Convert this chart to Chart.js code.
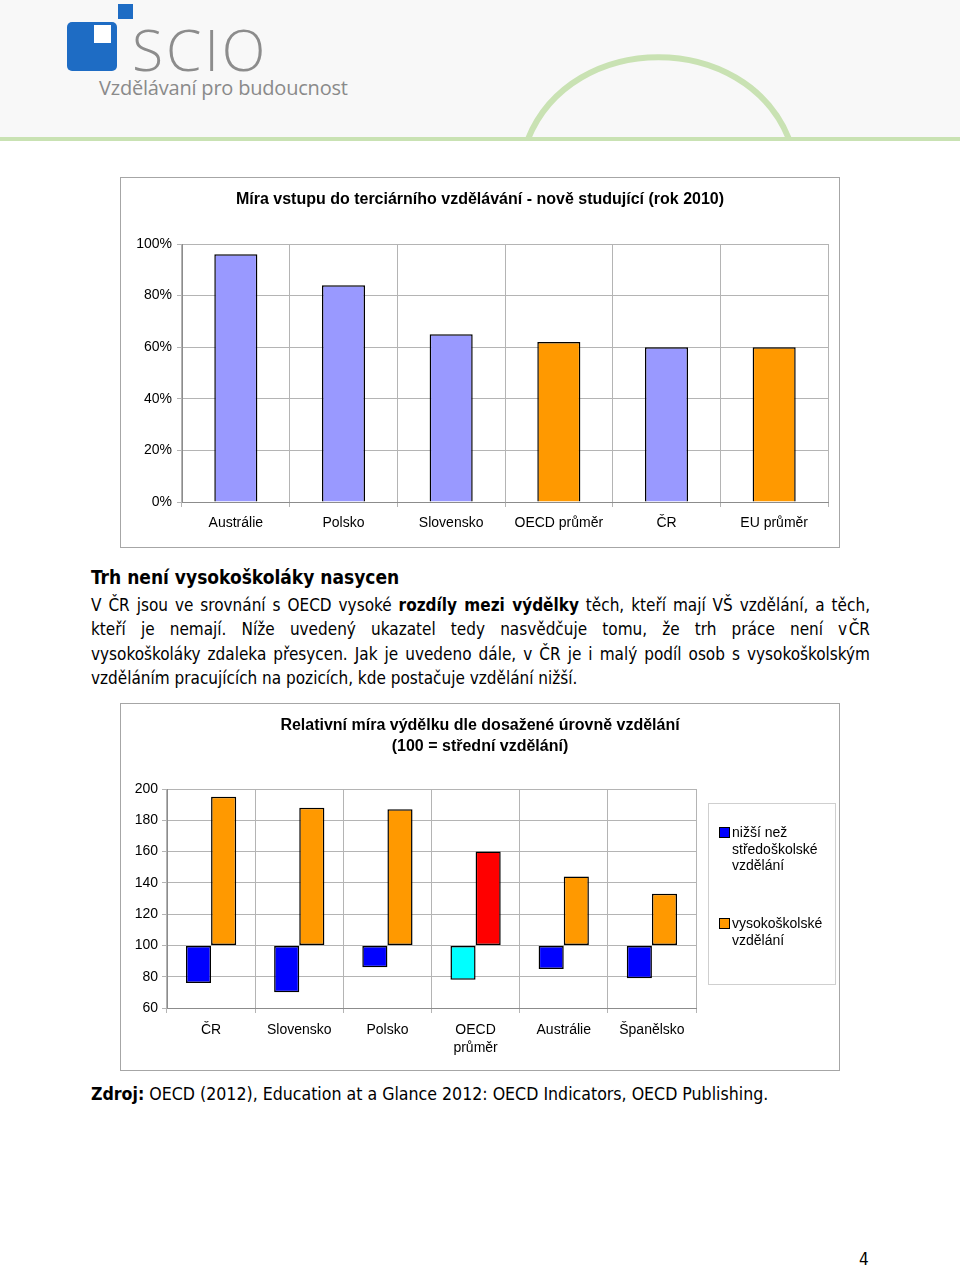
<!DOCTYPE html>
<html lang="cs">
<head>
<meta charset="utf-8">
<script src="https://cdn.jsdelivr.net/npm/chart.js@4.4.1/dist/chart.umd.min.js"></script>
<style>
body { margin:0; width:960px; height:1267px; position:relative; background:#fff; overflow:hidden;
       font-family:"DejaVu Sans Condensed","DejaVu Sans",sans-serif; color:#000; }
.abs { position:absolute; }
.header { left:0; top:0; width:960px; height:137px; background:#f8f8f8; }
.hline { left:0; top:137px; width:960px; height:4px; background:#c9e2b3; }
.frame { border:1px solid #a6a6a6; box-sizing:border-box; }
.para div { white-space:nowrap; height:24.4px; line-height:24.4px; }
.just { text-align:justify; text-align-last:justify; }
.legend { font-family:"Liberation Sans",Arial,sans-serif; font-size:14px; line-height:16.5px; }
.sw { position:absolute; width:9px; height:9px; border:1px solid #000; }
</style>
</head>
<body>
<!-- hlavička -->
<div class="abs header"></div>
<svg class="abs" style="left:0;top:0" width="960" height="141">
  <path d="M528,139 C572,30 745,30 789,139" fill="none" stroke="#c9e2b3" stroke-width="6"/>
</svg>
<div class="abs hline"></div>
<div class="abs" style="left:67px;top:22px;width:50px;height:49px;background:#1e6cc4;border-radius:5px"></div>
<div class="abs" style="left:94px;top:25px;width:17px;height:18px;background:#fff"></div>
<div class="abs" style="left:118px;top:4px;width:15px;height:15px;background:#1e6cc4"></div>
<div class="abs" style="left:132px;top:16px;font-family:'Open Sans',sans-serif;font-weight:300;font-size:57px;letter-spacing:3px;color:#8c8c8c;line-height:66px">SCIO</div>
<div class="abs" style="left:99px;top:74px;font-family:'Open Sans',sans-serif;font-size:20px;color:#8a8a8a;letter-spacing:-0.2px">Vzdělávaní pro budoucnost</div>

<!-- graf 1 -->
<div class="abs frame" style="left:120px;top:177px;width:720px;height:371px"></div>
<div class="abs" style="left:120px;top:177px;width:720px;height:371px"><canvas id="chart1"></canvas></div>

<!-- text -->
<div class="abs" style="left:91px;top:565px;font-weight:bold;font-size:19px;line-height:24px">Trh není vysokoškoláky nasycen</div>
<div class="abs para" style="left:91px;top:593px;width:779px;font-size:17px">
  <div class="just">V ČR jsou ve srovnání s OECD vysoké <b>rozdíly mezi výdělky</b> těch, kteří mají VŠ vzdělání, a těch,</div>
  <div class="just">kteří je nemají. Níže uvedený ukazatel tedy nasvědčuje tomu, že trh práce není v&#8202;ČR</div>
  <div class="just">vysokoškoláky zdaleka přesycen. Jak je uvedeno dále, v ČR je i malý podíl osob s vysokoškolským</div>
  <div>vzděláním pracujících na pozicích, kde postačuje vzdělání nižší.</div>
</div>

<!-- graf 2 -->
<div class="abs frame" style="left:120px;top:703px;width:720px;height:368px"></div>
<div class="abs" style="left:120px;top:703px;width:720px;height:368px"><canvas id="chart2"></canvas></div>
<div class="abs frame legend" style="left:708px;top:803px;width:128px;height:182px;border-color:#cfcfcf">
  <div class="sw" style="left:10px;top:23px;background:#0000ff"></div>
  <div class="abs" style="left:23px;top:20px">nižší než<br>středoškolské<br>vzdělání</div>
  <div class="sw" style="left:10px;top:114px;background:#ff9900"></div>
  <div class="abs" style="left:23px;top:111px">vysokoškolské<br>vzdělání</div>
</div>

<div class="abs" style="left:91px;top:1082px;font-size:17.6px;line-height:24px;white-space:nowrap"><b>Zdroj:</b> OECD (2012), Education at a Glance 2012: OECD Indicators, OECD Publishing.</div>
<div class="abs" style="left:859px;top:1248px;font-size:17px;line-height:22px">4</div>

<script>
// data – graf 1
const entryTitle = 'Míra vstupu do terciárního vzdělávání - nově studující (rok 2010)';
const entryCountries = ['Austrálie', 'Polsko', 'Slovensko', 'OECD průměr', 'ČR', 'EU průměr'];
const entryRates = [96, 84, 65, 62, 60, 60];
const entryTicks = [0, 20, 40, 60, 80, 100];

// data – graf 2
const earnTitle = ['Relativní míra výdělku dle dosažené úrovně vzdělání', '(100 = střední vzdělání)'];
const earnCountries = ['ČR', 'Slovensko', 'Polsko', ['OECD', 'průměr'], 'Austrálie', 'Španělsko'];
const earnLower = [76, 70, 86, 78, 85, 79];
const earnTertiary = [195, 188, 187, 160, 144, 133];
const earnTicks = [60, 80, 100, 120, 140, 160, 180, 200];
const earnBase = 100;

// barvy
const entryColors = ['#9999ff', '#9999ff', '#9999ff', '#ff9900', '#9999ff', '#ff9900'];
const lowerColors = ['#0000ff', '#0000ff', '#0000ff', '#00ffff', '#0000ff', '#0000ff'];
const upperColors = ['#ff9900', '#ff9900', '#ff9900', '#ff0000', '#ff9900', '#ff9900'];

Chart.defaults.font.family = '"Liberation Sans", Arial, sans-serif';
Chart.defaults.color = '#000';
Chart.defaults.animation = false;

const GRID = '#b4b4b4';
const AXIS = '#8c8c8c';

new Chart(document.getElementById('chart1'), {
    type: 'bar',
    data: {
        labels: entryCountries,
        datasets: [{
            data: entryRates,
            backgroundColor: entryColors,
            borderColor: '#000',
            borderWidth: 1.5,
            borderSkipped: 'bottom',
            barPercentage: 0.4,
            categoryPercentage: 1
        }]
    },
    options: {
        responsive: true,
        maintainAspectRatio: false,
        layout: { padding: { left: 12, right: 12, top: 0, bottom: 0 } },
        plugins: {
            legend: { display: false },
            tooltip: { enabled: false },
            title: {
                display: true,
                text: entryTitle,
                font: { size: 16, weight: 'bold' },
                padding: { top: 13.4, bottom: 34.4 }
            }
        },
        scales: {
            x: {
                grid: { color: GRID, tickLength: 5, offset: true },
                border: { color: AXIS },
                ticks: { font: { size: 14 }, padding: 8, maxRotation: 0 },
                afterFit(s) { s.height = 46; }
            },
            y: {
                min: 0, max: 100,
                afterBuildTicks(s) { s.ticks = entryTicks.map(v => ({ value: v })); },
                grid: { color: GRID, tickLength: 5 },
                border: { color: AXIS },
                ticks: { font: { size: 14 }, padding: 5, callback: v => v + '%' },
                afterFit(s) { s.width = 50; }
            }
        }
    }
});

new Chart(document.getElementById('chart2'), {
    type: 'bar',
    data: {
        labels: earnCountries,
        datasets: [{
            label: 'nižší než středoškolské vzdělání',
            data: earnLower,
            base: earnBase,
            backgroundColor: lowerColors,
            borderColor: '#000',
            borderWidth: 1.5,
            borderSkipped: false,
            barPercentage: 1,
            categoryPercentage: 0.57
        }, {
            label: 'vysokoškolské vzdělání',
            data: earnTertiary,
            base: earnBase,
            backgroundColor: upperColors,
            borderColor: '#000',
            borderWidth: 1.5,
            borderSkipped: false,
            barPercentage: 1,
            categoryPercentage: 0.57
        }]
    },
    options: {
        responsive: true,
        maintainAspectRatio: false,
        layout: { padding: { left: 12, right: 12, top: 0, bottom: 0 } },
        plugins: {
            legend: { display: false },
            tooltip: { enabled: false },
            title: {
                display: true,
                text: earnTitle,
                font: { size: 16, weight: 'bold', lineHeight: 1.3 },
                padding: { top: 12.6, bottom: 31.8 }
            }
        },
        scales: {
            x: {
                grid: { color: GRID, tickLength: 5, offset: true },
                border: { color: AXIS },
                ticks: { font: { size: 14, lineHeight: 1.3 }, padding: 8, maxRotation: 0 },
                afterFit(s) { s.height = 63; }
            },
            y: {
                min: 60, max: 200,
                afterBuildTicks(s) { s.ticks = earnTicks.map(v => ({ value: v })); },
                grid: { color: GRID, tickLength: 5 },
                border: { color: AXIS },
                ticks: { font: { size: 14 }, padding: 4 },
                afterFit(s) { s.width = 35; }
            },
            yR: {
                position: 'right',
                grid: { display: false },
                border: { display: false },
                ticks: { display: false },
                afterFit(s) { s.width = 132; }
            }
        }
    }
});
</script>
</body>
</html>
